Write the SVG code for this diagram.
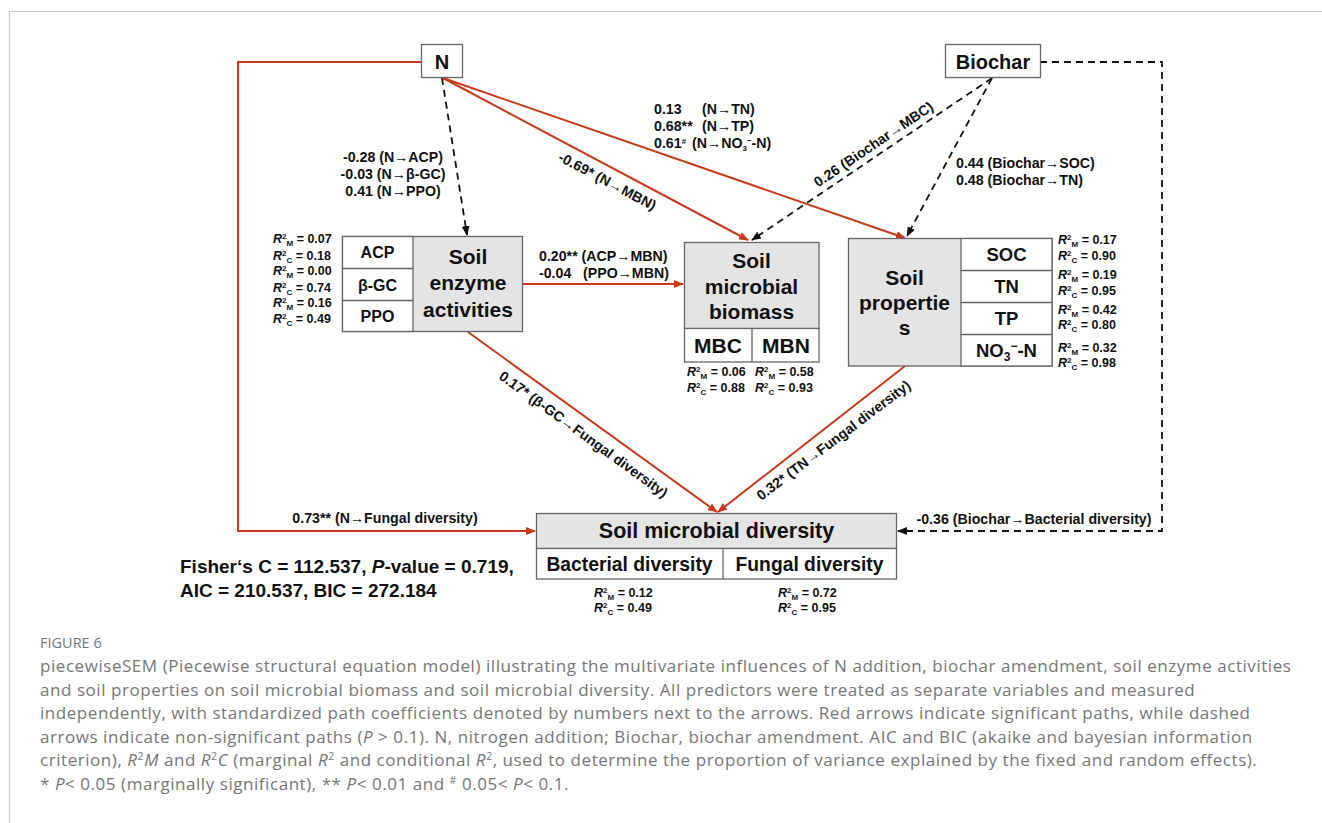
<svg xmlns="http://www.w3.org/2000/svg" width="1322" height="823" viewBox="0 0 1322 823">
<style>
text{font-family:"Liberation Sans",Arial,sans-serif;font-weight:bold;fill:#111}
.box{fill:#fff;stroke:#666;stroke-width:1.3}
.gray{fill:#e4e4e4;stroke:#666;stroke-width:1.3}
.sep{stroke:#666;stroke-width:1.3}
.red{fill:none;stroke:#c9381a;stroke-width:2;marker-end:url(#ar)}
.dash{fill:none;stroke:#111;stroke-width:1.8;stroke-dasharray:7 5;marker-end:url(#ab)}
.lab{font-size:14.2px}
.big{font-size:21px;text-anchor:middle}
.row{font-size:18.5px;text-anchor:middle}
.sub{font-size:19.3px;text-anchor:middle}
.cell{font-size:16px;text-anchor:middle}
.r2{font-size:12.5px}
.i{font-style:italic}
.sm{font-size:8px}
.cap{font-family:"Open Sans","Liberation Sans",sans-serif;font-weight:normal;fill:#777;font-size:17px;letter-spacing:0.55px}
.fig{font-family:"Open Sans","Liberation Sans",sans-serif;font-weight:normal;fill:#777;font-size:14.5px}
.stat{font-size:19px}
</style>
<defs>
<marker id="ar" markerWidth="10" markerHeight="8" refX="9" refY="4" orient="auto" markerUnits="userSpaceOnUse"><path d="M0,0 L10,4 L0,8 z" fill="#c9381a"/></marker>
<marker id="ab" markerWidth="10" markerHeight="8" refX="9" refY="4" orient="auto" markerUnits="userSpaceOnUse"><path d="M0,0 L10,4 L0,8 z" fill="#111"/></marker>
</defs>
<rect width="1322" height="823" fill="#fff"/>
<path d="M9.5,823 V11.5 H1322" fill="none" stroke="#c8c8c8" stroke-width="1.2"/>

<g id="connectors">
<path class="red" d="M421,62 H238 V531 H535"/>
<path class="dash" d="M442,78 L467,235"/>
<path class="red" d="M443,78 L748,240"/>
<path class="red" d="M443,78 L905,238"/>
<path class="dash" d="M992,78 L752,240"/>
<path class="dash" d="M992,78 L907,236"/>
<path class="dash" d="M1040,62 H1162 V531 H898"/>
<path class="red" d="M523,284 H683"/>
<path class="red" d="M468,332 L717,512"/>
<path class="red" d="M905,366 L718,512"/>
</g>

<g id="labels">
<text class="lab" text-anchor="middle" x="393" y="162">-0.28 (N→ACP)</text>
<text class="lab" text-anchor="middle" x="393" y="179">-0.03 (N→β-GC)</text>
<text class="lab" text-anchor="middle" x="393" y="196">0.41 (N→PPO)</text>
<text class="lab" x="654" y="114">0.13<tspan x="702">(N→TN)</tspan></text>
<text class="lab" x="654" y="131">0.68**<tspan x="702">(N→TP)</tspan></text>
<text class="lab" x="654" y="148">0.61<tspan class="sm" dy="-4">#</tspan><tspan x="692" dy="4">(N→NO</tspan><tspan class="sm" dy="3">3</tspan><tspan class="sm" dy="-8">−</tspan><tspan dy="5">-N)</tspan></text>
<text class="lab" text-anchor="middle" transform="translate(607,182) rotate(27.8)" x="0" y="4">-0.69* (N→MBN)</text>
<text class="lab" text-anchor="middle" transform="translate(874,145) rotate(-34)" x="0" y="4">0.26 (Biochar→MBC)</text>
<text class="lab" x="956" y="168">0.44 (Biochar→SOC)</text>
<text class="lab" x="956" y="185">0.48 (Biochar→TN)</text>
<text class="lab" x="539" y="261">0.20** (ACP→MBN)</text>
<text class="lab" x="539" y="278">-0.04<tspan x="583">(PPO→MBN)</tspan></text>
<text class="lab" text-anchor="middle" transform="translate(583,435) rotate(36)" x="0" y="4">0.17* (β-GC→Fungal diversity)</text>
<text class="lab" text-anchor="middle" transform="translate(834,441) rotate(-37)" x="0" y="4">0.32* (TN→Fungal diversity)</text>
<text class="lab" text-anchor="middle" x="385" y="523">0.73** (N→Fungal diversity)</text>
<text class="lab" text-anchor="middle" x="1034" y="524">-0.36 (Biochar→Bacterial diversity)</text>
</g>

<g id="node-N">
<rect class="box" x="421.5" y="44.5" width="41" height="33"/>
<text x="442" y="68.5" font-size="20" text-anchor="middle">N</text>
</g>

<g id="node-biochar">
<rect class="box" x="945.5" y="44.5" width="95" height="33"/>
<text x="993" y="68.5" font-size="20" text-anchor="middle">Biochar</text>
</g>

<g id="node-enzyme">
<rect class="gray" x="342.5" y="236.5" width="180" height="95"/>
<rect class="box" x="342.5" y="236.5" width="70.5" height="95"/>
<line class="sep" x1="342.5" y1="268.5" x2="413" y2="268.5"/>
<line class="sep" x1="342.5" y1="300.5" x2="413" y2="300.5"/>
<text class="cell" x="377.5" y="258">ACP</text>
<text class="cell" x="377.5" y="291">β-GC</text>
<text class="cell" x="377.5" y="322">PPO</text>
<text class="big" x="468" y="264">Soil</text>
<text class="big" x="468" y="290">enzyme</text>
<text class="big" x="468" y="317">activities</text>
<text class="r2" x="273" y="243"><tspan class="i">R</tspan><tspan class="sm" dy="-4.5">2</tspan><tspan class="sm" dy="7">M</tspan><tspan dy="-2.5"> = 0.07</tspan></text>
<text class="r2" x="273" y="260"><tspan class="i">R</tspan><tspan class="sm" dy="-4.5">2</tspan><tspan class="sm" dy="7">C</tspan><tspan dy="-2.5"> = 0.18</tspan></text>
<text class="r2" x="273" y="275"><tspan class="i">R</tspan><tspan class="sm" dy="-4.5">2</tspan><tspan class="sm" dy="7">M</tspan><tspan dy="-2.5"> = 0.00</tspan></text>
<text class="r2" x="273" y="292"><tspan class="i">R</tspan><tspan class="sm" dy="-4.5">2</tspan><tspan class="sm" dy="7">C</tspan><tspan dy="-2.5"> = 0.74</tspan></text>
<text class="r2" x="273" y="307"><tspan class="i">R</tspan><tspan class="sm" dy="-4.5">2</tspan><tspan class="sm" dy="7">M</tspan><tspan dy="-2.5"> = 0.16</tspan></text>
<text class="r2" x="273" y="323"><tspan class="i">R</tspan><tspan class="sm" dy="-4.5">2</tspan><tspan class="sm" dy="7">C</tspan><tspan dy="-2.5"> = 0.49</tspan></text>
</g>

<g id="node-biomass">
<rect class="gray" x="684.5" y="242.5" width="134.5" height="86"/>
<rect class="box" x="684.5" y="328.5" width="134.5" height="33.5"/>
<line class="sep" x1="752" y1="328.5" x2="752" y2="362"/>
<text class="big" x="751.5" y="268">Soil</text>
<text class="big" x="751.5" y="294">microbial</text>
<text class="big" x="751.5" y="319">biomass</text>
<text class="big" x="718" y="353">MBC</text>
<text class="big" x="786" y="353">MBN</text>
<text class="r2" x="687" y="376"><tspan class="i">R</tspan><tspan class="sm" dy="-4.5">2</tspan><tspan class="sm" dy="7">M</tspan><tspan dy="-2.5"> = 0.06</tspan></text>
<text class="r2" x="687" y="392"><tspan class="i">R</tspan><tspan class="sm" dy="-4.5">2</tspan><tspan class="sm" dy="7">C</tspan><tspan dy="-2.5"> = 0.88</tspan></text>
<text class="r2" x="755" y="376"><tspan class="i">R</tspan><tspan class="sm" dy="-4.5">2</tspan><tspan class="sm" dy="7">M</tspan><tspan dy="-2.5"> = 0.58</tspan></text>
<text class="r2" x="755" y="392"><tspan class="i">R</tspan><tspan class="sm" dy="-4.5">2</tspan><tspan class="sm" dy="7">C</tspan><tspan dy="-2.5"> = 0.93</tspan></text>
</g>

<g id="node-properties">
<rect class="gray" x="848.5" y="238.5" width="203.5" height="127.5"/>
<rect class="box" x="961" y="238.5" width="91" height="127.5"/>
<line class="sep" x1="961" y1="270.5" x2="1052" y2="270.5"/>
<line class="sep" x1="961" y1="302.5" x2="1052" y2="302.5"/>
<line class="sep" x1="961" y1="334.5" x2="1052" y2="334.5"/>
<text class="big" x="904.5" y="285">Soil</text>
<text class="big" x="904.5" y="310">propertie</text>
<text class="big" x="904.5" y="335">s</text>
<text class="row" x="1006.5" y="261">SOC</text>
<text class="row" x="1006.5" y="293">TN</text>
<text class="row" x="1006.5" y="325">TP</text>
<text class="row" x="1006.5" y="357">NO<tspan style="font-size:12px" dy="4">3</tspan><tspan style="font-size:12px" dy="-11">−</tspan><tspan dy="7">-N</tspan></text>
<text class="r2" x="1058" y="244"><tspan class="i">R</tspan><tspan class="sm" dy="-4.5">2</tspan><tspan class="sm" dy="7">M</tspan><tspan dy="-2.5"> = 0.17</tspan></text>
<text class="r2" x="1058" y="260"><tspan class="i">R</tspan><tspan class="sm" dy="-4.5">2</tspan><tspan class="sm" dy="7">C</tspan><tspan dy="-2.5"> = 0.90</tspan></text>
<text class="r2" x="1058" y="279"><tspan class="i">R</tspan><tspan class="sm" dy="-4.5">2</tspan><tspan class="sm" dy="7">M</tspan><tspan dy="-2.5"> = 0.19</tspan></text>
<text class="r2" x="1058" y="295"><tspan class="i">R</tspan><tspan class="sm" dy="-4.5">2</tspan><tspan class="sm" dy="7">C</tspan><tspan dy="-2.5"> = 0.95</tspan></text>
<text class="r2" x="1058" y="314"><tspan class="i">R</tspan><tspan class="sm" dy="-4.5">2</tspan><tspan class="sm" dy="7">M</tspan><tspan dy="-2.5"> = 0.42</tspan></text>
<text class="r2" x="1058" y="329"><tspan class="i">R</tspan><tspan class="sm" dy="-4.5">2</tspan><tspan class="sm" dy="7">C</tspan><tspan dy="-2.5"> = 0.80</tspan></text>
<text class="r2" x="1058" y="352"><tspan class="i">R</tspan><tspan class="sm" dy="-4.5">2</tspan><tspan class="sm" dy="7">M</tspan><tspan dy="-2.5"> = 0.32</tspan></text>
<text class="r2" x="1058" y="367"><tspan class="i">R</tspan><tspan class="sm" dy="-4.5">2</tspan><tspan class="sm" dy="7">C</tspan><tspan dy="-2.5"> = 0.98</tspan></text>
</g>

<g id="node-diversity">
<rect class="gray" x="536.5" y="513.5" width="360" height="35"/>
<rect class="box" x="536.5" y="548.5" width="360" height="30.5"/>
<line class="sep" x1="723" y1="548.5" x2="723" y2="579"/>
<text class="big" style="font-size:21.5px" x="716.5" y="538">Soil microbial diversity</text>
<text class="sub" x="629.5" y="571">Bacterial diversity</text>
<text class="sub" x="809.5" y="571">Fungal diversity</text>
<text class="r2" x="594" y="597"><tspan class="i">R</tspan><tspan class="sm" dy="-4.5">2</tspan><tspan class="sm" dy="7">M</tspan><tspan dy="-2.5"> = 0.12</tspan></text>
<text class="r2" x="594" y="612"><tspan class="i">R</tspan><tspan class="sm" dy="-4.5">2</tspan><tspan class="sm" dy="7">C</tspan><tspan dy="-2.5"> = 0.49</tspan></text>
<text class="r2" x="778" y="597"><tspan class="i">R</tspan><tspan class="sm" dy="-4.5">2</tspan><tspan class="sm" dy="7">M</tspan><tspan dy="-2.5"> = 0.72</tspan></text>
<text class="r2" x="778" y="612"><tspan class="i">R</tspan><tspan class="sm" dy="-4.5">2</tspan><tspan class="sm" dy="7">C</tspan><tspan dy="-2.5"> = 0.95</tspan></text>
</g>

<g id="stats">
<text class="stat" x="180" y="573">Fisher‘s C = 112.537, <tspan class="i">P</tspan>-value = 0.719,</text>
<text class="stat" x="180" y="597">AIC = 210.537, BIC = 272.184</text>
</g>

<g id="caption">
<text class="fig" x="40" y="648">FIGURE 6</text>
<text class="cap" x="40" y="672">piecewiseSEM (Piecewise structural equation model) illustrating the multivariate influences of N addition, biochar amendment, soil enzyme activities</text>
<text class="cap" x="40" y="696">and soil properties on soil microbial biomass and soil microbial diversity. All predictors were treated as separate variables and measured</text>
<text class="cap" x="40" y="719">independently, with standardized path coefficients denoted by numbers next to the arrows. Red arrows indicate significant paths, while dashed</text>
<text class="cap" x="40" y="743">arrows indicate non-significant paths (<tspan font-style="italic">P</tspan> &gt; 0.1). N, nitrogen addition; Biochar, biochar amendment. AIC and BIC (akaike and bayesian information</text>
<text class="cap" x="40" y="766">criterion), <tspan font-style="italic">R</tspan><tspan style="font-size:10.5px" dy="-6">2</tspan><tspan font-style="italic" dy="6">M</tspan> and <tspan font-style="italic">R</tspan><tspan style="font-size:10.5px" dy="-6">2</tspan><tspan font-style="italic" dy="6">C</tspan> (marginal <tspan font-style="italic">R</tspan><tspan style="font-size:10.5px" dy="-6">2</tspan><tspan dy="6"> and conditional </tspan><tspan font-style="italic">R</tspan><tspan style="font-size:10.5px" dy="-6">2</tspan><tspan dy="6">, used to determine the proportion of variance explained by the fixed and random effects).</tspan></text>
<text class="cap" x="40" y="790">* <tspan font-style="italic">P</tspan>&lt; 0.05 (marginally significant), ** <tspan font-style="italic">P</tspan>&lt; 0.01 and <tspan style="font-size:10.5px" dy="-6">#</tspan><tspan dy="6"> 0.05&lt; </tspan><tspan font-style="italic">P</tspan>&lt; 0.1.</text>
</g>
</svg>
